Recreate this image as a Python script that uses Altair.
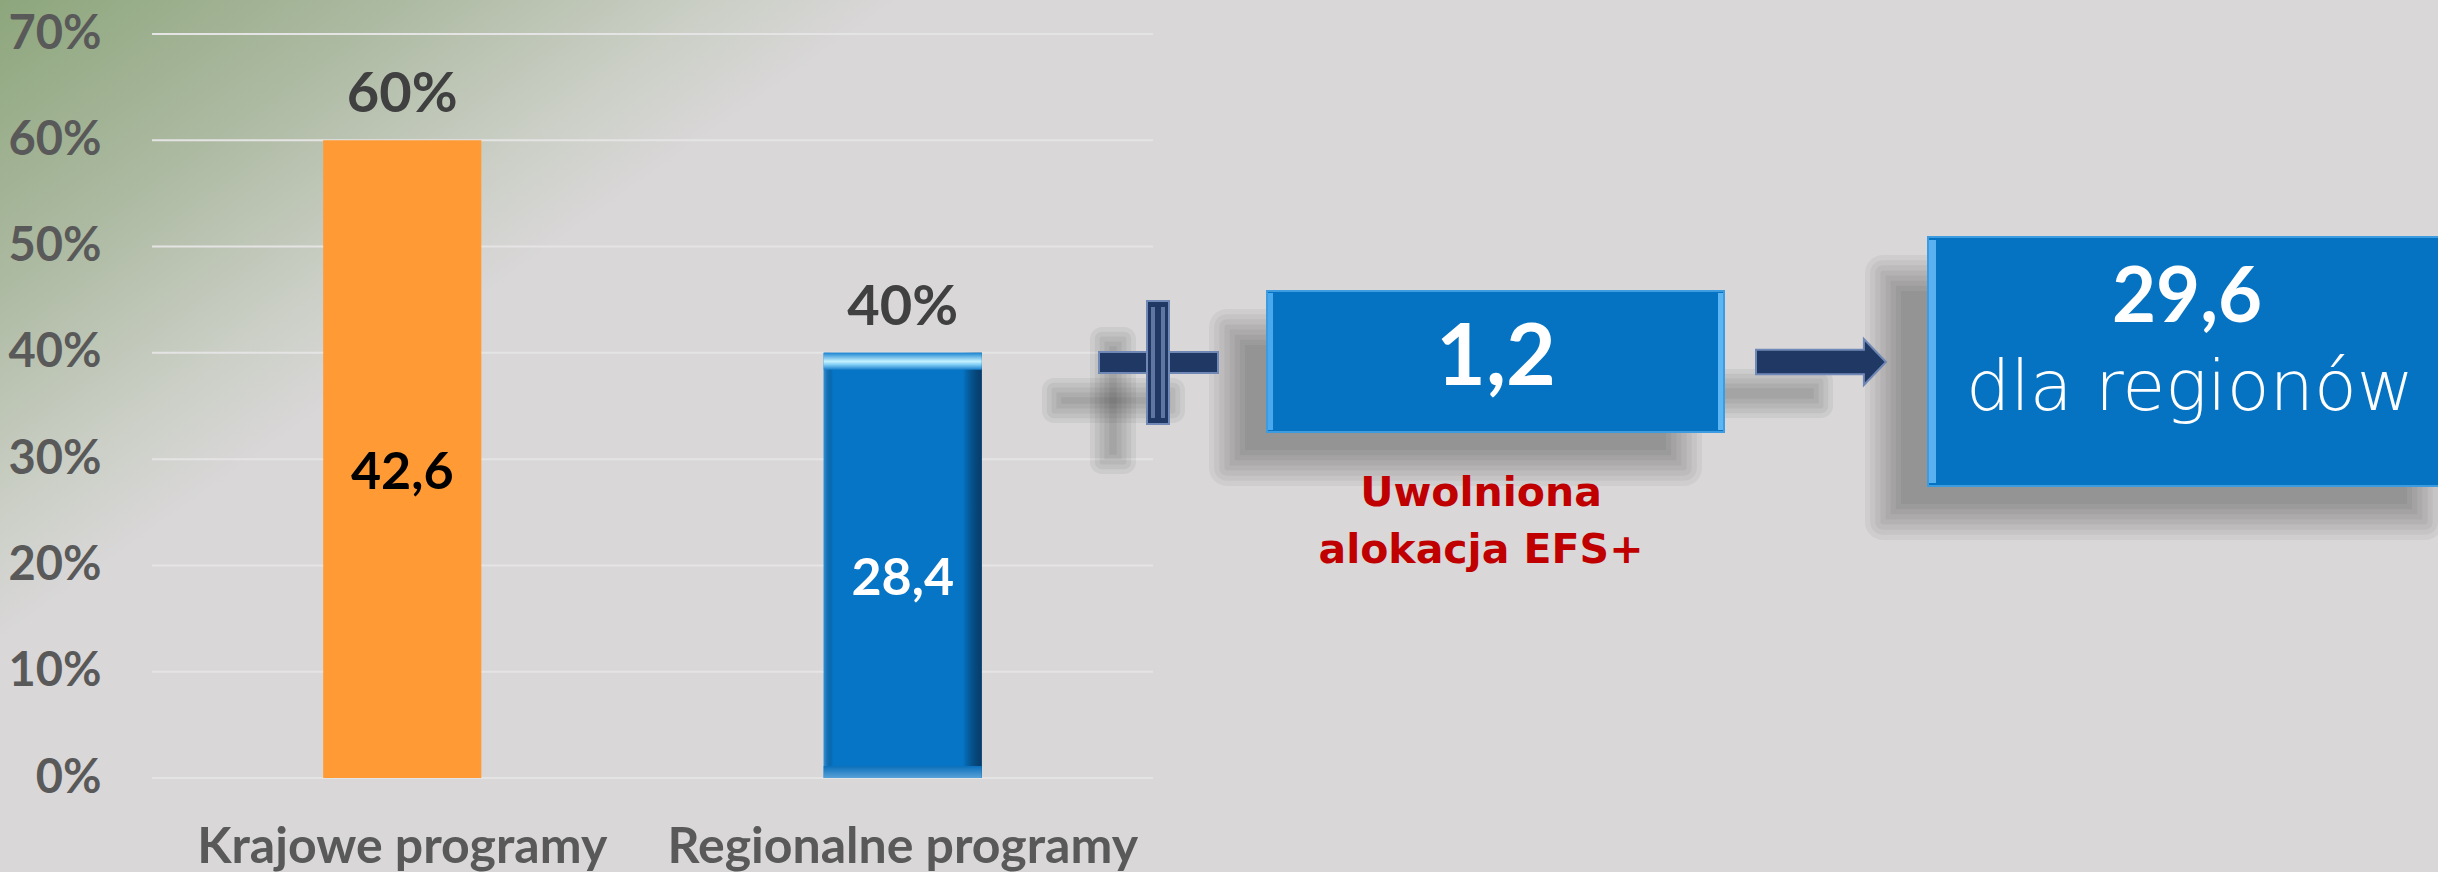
import altair as alt
import pandas as pd

# ---------------- data ----------------
categories = ["Krajowe programy", "Regionalne programy"]
shares = [0.60, 0.40]
share_labels = ["60%", "40%"]
amounts = ["42,6", "28,4"]
y_ticks = [0.0, 0.1, 0.2, 0.3, 0.4, 0.5, 0.6, 0.7]
released_amount = "1,2"
released_label = ["Uwolniona", "alokacja EFS+"]
regions_amount = "29,6"
regions_label = "dla regionów"

df = pd.DataFrame({"category": categories, "share": shares,
                   "share_label": share_labels, "amount": amounts})
ticks_df = pd.DataFrame({"tick": y_ticks})
one = pd.DataFrame({"k": [0]})

# ---------------- layout ----------------
W, H = 1001, 744
LEFT, TOP = 152, 34
RIGHT, BOTTOM = 2438 - LEFT - W, 872 - TOP - H

NAVY = "#203864"
NAVY_EDGE = "#7088b5"
BLUE = "#0572c2"


def px(x):
    return x - LEFT


def py(y):
    return y - TOP


def rect(x0, y0, x1, y1, **mark):
    return alt.Chart(one).mark_rect(**mark).encode(
        x=alt.value(px(x0)), x2=alt.value(px(x1)),
        y=alt.value(py(y0)), y2=alt.value(py(y1)))


def shadow(x0, y0, x1, y1, dx=-42, dy=36, blur=14, n=7, alpha=0.05):
    out = []
    for i in range(n):
        e = blur - 2 * blur * i / (n - 1)
        a0, b0, a1, b1 = x0 + dx - e, y0 + dy - e, x1 + dx + e, y1 + dy + e
        if a1 - a0 <= 2 or b1 - b0 <= 2:
            continue
        out.append(rect(a0, b0, a1, b1, color="black", opacity=alpha,
                        cornerRadius=max(e, 0)))
    return out


def text(s, x, y, **mark):
    return alt.Chart(one).mark_text(**mark).encode(
        x=alt.value(px(x)), y=alt.value(py(y)), text=alt.value(s))


# ---------------- background gradient ----------------
bg = rect(0, 0, 900, 640, fill={
    "gradient": "linear", "x1": 0, "y1": 0, "x2": 0.5, "y2": 0.5,
    "stops": [
        {"offset": 0, "color": "#8da67c"},
        {"offset": 0.45, "color": "#adbaa2"},
        {"offset": 0.8, "color": "#cbcfc6"},
        {"offset": 1, "color": "#d9d7d8"},
    ]})

# ---------------- encodings ----------------
y_axis = alt.Axis(format=".0%", values=y_ticks, grid=False, ticks=False, domain=False,
                  labelFont="Lato", labelFontWeight="bold", labelFontSize=47,
                  labelColor="#595959", labelPadding=51, title=None, zindex=1)
y_scale = alt.Scale(domain=[0, 0.7], nice=False)
x_enc = alt.X("category:N", sort=categories,
              scale=alt.Scale(paddingInner=0.684, paddingOuter=0.342),
              axis=alt.Axis(labelAngle=0, ticks=False, domain=False, title=None,
                            labelFont="Lato", labelFontWeight="bold", labelFontSize=50,
                            labelColor="#595959", labelPadding=84, labelLimit=1000,
                            labelBaseline="alphabetic", zindex=1))


def Y(field):
    return alt.Y(field, scale=y_scale, axis=y_axis)


grid = alt.Chart(ticks_df).mark_rule(color="#e5e4e4", strokeWidth=2).encode(y=Y("tick:Q"))

base = alt.Chart(df).encode(x=x_enc)
bars = base.mark_bar().encode(
    y=Y("share:Q"),
    color=alt.Color("category:N", scale=alt.Scale(domain=categories,
                                                  range=["#FF9A35", "#0675C6"]),
                    legend=None))

blue = base.transform_filter(alt.datum.category == categories[1])
side_bevel = blue.mark_bar(fill={
    "gradient": "linear", "x1": 0, "y1": 0, "x2": 1, "y2": 0,
    "stops": [
        {"offset": 0, "color": "rgba(90,170,235,0.55)"},
        {"offset": 0.06, "color": "rgba(0,0,0,0)"},
        {"offset": 0.88, "color": "rgba(0,0,0,0)"},
        {"offset": 1, "color": "rgba(10,40,75,0.75)"},
    ]}).encode(y=Y("share:Q"))
top_bevel = blue.mark_bar(y2Offset=17, fill={
    "gradient": "linear", "x1": 0, "y1": 0, "x2": 0, "y2": 1,
    "stops": [
        {"offset": 0, "color": "#1e86d2"},
        {"offset": 0.5, "color": "#c4f2ff"},
        {"offset": 0.7, "color": "#7fcdf5"},
        {"offset": 1, "color": "#167cc8"},
    ]}).encode(y=Y("share:Q"), y2="share:Q")
bottom_bevel = blue.transform_calculate(zero="0").mark_bar(yOffset=-12, fill={
    "gradient": "linear", "x1": 0, "y1": 0, "x2": 0, "y2": 1,
    "stops": [
        {"offset": 0, "color": "#0a6fba"},
        {"offset": 1, "color": "#5aa2d8"},
    ]}).encode(y=Y("zero:Q"), y2="zero:Q")

top_labels = base.mark_text(font="Lato", fontWeight="bold", fontSize=56,
                            color="#404040", baseline="alphabetic", dy=-28).encode(
    y=Y("share:Q"), text="share_label:N")
inner_labels = base.transform_calculate(mid="datum.share / 2").mark_text(
    font="Lato", fontWeight="bold", fontSize=52, baseline="middle", dy=14).encode(
    y=Y("mid:Q"), text="amount:N",
    color=alt.condition(alt.datum.category == categories[0],
                        alt.value("#000000"), alt.value("#ffffff")))

# ---------------- right-hand flow diagram ----------------
plus_v = (1147, 301, 1169, 424)
plus_h = (1099, 352, 1218, 373)
box1 = (1267, 291, 1724, 432)
shaft = (1756, 349, 1866, 374)
box2 = (1928, 237, 2470, 486)

layers = [bg, grid, bars, side_bevel, top_bevel, bottom_bevel, top_labels, inner_labels]

layers += shadow(*plus_v, dx=-45, dy=38, blur=12, n=6, alpha=0.05)
layers += shadow(*plus_h, dx=-45, dy=38, blur=12, n=6, alpha=0.05)
layers += shadow(*box1, dx=-40, dy=36, blur=18, n=8, alpha=0.045)
layers += shadow(*shaft, dx=-45, dy=32, blur=12, n=6, alpha=0.05)
layers += shadow(*box2, dx=-45, dy=36, blur=18, n=8, alpha=0.045)

# plus sign
layers.append(rect(*plus_h, fill=NAVY, stroke=NAVY_EDGE, strokeWidth=2))
layers.append(rect(*plus_v, fill=NAVY, stroke=NAVY_EDGE, strokeWidth=2))
layers.append(rect(plus_v[0] + 4, plus_v[1] + 6, plus_v[0] + 8, plus_v[3] - 6, fill="#6f86b3", opacity=0.8))
layers.append(rect(plus_v[2] - 8, plus_v[1] + 6, plus_v[2] - 4, plus_v[3] - 6, fill="#6f86b3", opacity=0.8))

# box 1,2
layers.append(rect(*box1, fill=BLUE, stroke="#3d9be0", strokeWidth=2))
layers.append(rect(box1[0] + 1, box1[1] + 2, box1[0] + 6, box1[3] - 2, fill="#4aa8ee"))
layers.append(rect(box1[2] - 6, box1[1] + 2, box1[2] - 1, box1[3] - 2, fill="#5cb6f4"))

# arrow
arrow_path = "M -1 -0.19 L 0.66 -0.19 L 0.66 -0.354 L 1 0 L 0.66 0.354 L 0.66 0.19 L -1 0.19 Z"
layers.append(alt.Chart(one).mark_point(shape=arrow_path, size=130 * 130, filled=True,
                                        fill=NAVY, stroke=NAVY_EDGE, strokeWidth=2,
                                        opacity=1).encode(
    x=alt.value(px(1821)), y=alt.value(py(362))))

# box 29,6
layers.append(rect(*box2, fill=BLUE, stroke="#3d9be0", strokeWidth=2))
layers.append(rect(box2[0] + 1, box2[1] + 3, box2[0] + 8, box2[3] - 3, fill="#59b1ef"))

# texts
layers.append(text(released_amount, 1496, 385, font="Lato", fontWeight="bold",
                   fontSize=86, color="white", align="center", baseline="alphabetic"))
layers.append(text(regions_amount, 2187, 322, font="Lato", fontWeight="bold",
                   fontSize=76, color="white", align="center", baseline="alphabetic"))
layers.append(text(regions_label, 2190, 410, font="DejaVu Sans", fontWeight=200,
                   fontSize=70, color="white", align="center", baseline="alphabetic"))
layers.append(text(released_label[0], 1481, 506, font="DejaVu Sans", fontWeight="bold",
                   fontSize=41, color="#C00000", align="center", baseline="alphabetic"))
layers.append(text(released_label[1], 1481, 563, font="DejaVu Sans", fontWeight="bold",
                   fontSize=41, color="#C00000", align="center", baseline="alphabetic"))

chart = alt.layer(*layers).properties(
    width=W, height=H,
    autosize=alt.AutoSizeParams(type="none"),
    padding={"left": LEFT, "top": TOP, "right": RIGHT, "bottom": BOTTOM},
    background="#d9d7d8",
).configure_view(stroke=None)

chart.save("out.html", embed_options={"renderer": "svg", "actions": False})
